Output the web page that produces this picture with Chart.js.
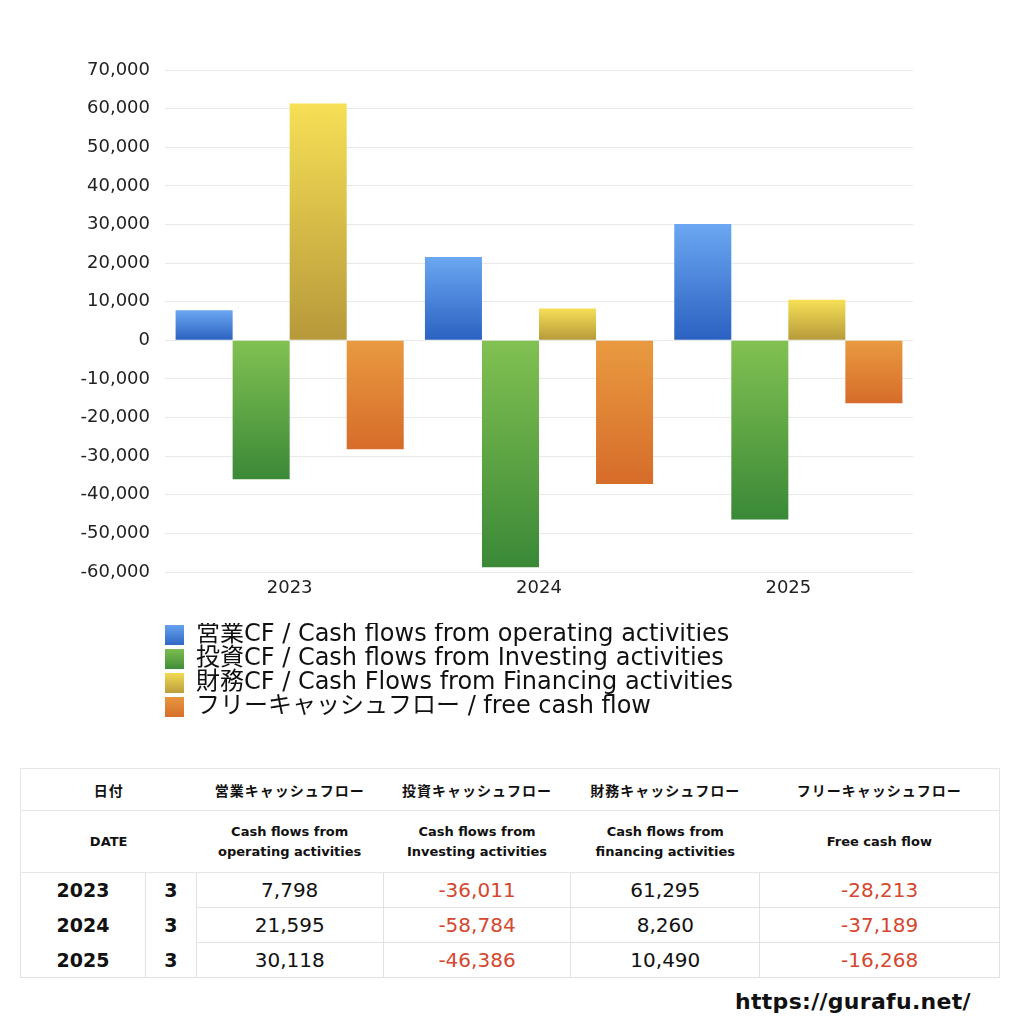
<!DOCTYPE html>
<html>
<head>
<meta charset="utf-8">
<script src="https://cdn.jsdelivr.net/npm/chart.js@4"></script>
<style>
  body { margin: 0; background: #fff; font-family: 'DejaVu Sans', 'Noto Sans CJK JP', sans-serif; }
  #chartBox { position: absolute; left: 0; top: 0; width: 1024px; height: 735px; }
  #cfTable { position: absolute; left: 20px; top: 768px; width: 980px; border-collapse: collapse; color: #111; }
  #cfTable th, #cfTable td { text-align: center; padding: 0; }
  #cfTable thead tr:first-child th { height: 41px; font-size: 14px; letter-spacing: 1px; font-weight: bold; font-family: 'Noto Sans CJK JP', sans-serif; border-top: 1px solid #e6e6e6; border-bottom: 1px solid #e6e6e6; }
  #cfTable thead tr:nth-child(2) th { height: 61px; font-size: 13px; font-weight: bold; line-height: 20px; border-bottom: 1px solid #e6e6e6; }
  #cfTable thead th:first-child { border-left: 1px solid #e6e6e6; }
  #cfTable thead th:last-child { border-right: 1px solid #e6e6e6; }
  #cfTable tbody td { height: 34px; font-size: 20px; border: 1px solid #e2e2e2; }
  #cfTable tbody td.yr, #cfTable tbody td.mo { font-weight: bold; font-size: 19px; }
  #cfTable tbody tr:not(:last-child) td.yr, #cfTable tbody tr:not(:last-child) td.mo { border-bottom: none; }
  #cfTable tbody tr:not(:first-child) td.yr, #cfTable tbody tr:not(:first-child) td.mo { border-top: none; }
  #cfTable td.neg { color: #d5472e; }
  #site { position: absolute; left: 735px; top: 989px; font-size: 22px; font-weight: bold; color: #111; font-family: 'DejaVu Sans', sans-serif; letter-spacing: 0.3px; }
</style>
</head>
<body>
<div id="chartBox"><canvas id="cfChart"></canvas></div>
<table id="cfTable">
  <colgroup>
    <col style="width:125px"><col style="width:51px"><col style="width:187px">
    <col style="width:188px"><col style="width:189px"><col style="width:240px">
  </colgroup>
  <thead>
    <tr id="headJa"></tr>
    <tr id="headEn"></tr>
  </thead>
  <tbody id="tableBody"></tbody>
</table>
<div id="site">https://gurafu.net/</div>
<script>
// 年度と月
const years = ['2023', '2024', '2025'];
const months = ['3', '3', '3'];

// 各キャッシュフロー
const operatingCF = [7798, 21595, 30118];
const investingCF = [-36011, -58784, -46386];
const financingCF = [61295, 8260, 10490];
const freeCF = [-28213, -37189, -16268];

const seriesLabels = [
    '営業CF / Cash flows from operating activities',
    '投資CF / Cash flows from Investing activities',
    '財務CF / Cash Flows from Financing activities',
    'フリーキャッシュフロー / free cash flow'
];

// 表の見出し
const headJa = ['日付', '営業キャッシュフロー', '投資キャッシュフロー', '財務キャッシュフロー', 'フリーキャッシュフロー'];
const headEn = ['DATE', 'Cash flows from<br>operating activities', 'Cash flows from<br>Investing activities', 'Cash flows from<br>financing activities', 'Free cash flow'];

const yTicks = [70000, 60000, 50000, 40000, 30000, 20000, 10000, 0, -10000, -20000, -30000, -40000, -50000, -60000];

// グラデーション色 (上, 下)
const gradColors = [
    ['#6ba7f2', '#2b61c1'],
    ['#82c152', '#3a8937'],
    ['#f6e056', '#b6993a'],
    ['#e99a40', '#d66c2a']
];

const fontFamily = "'DejaVu Sans', 'Noto Sans CJK JP', sans-serif";
const fmt = v => v.toLocaleString('en-US');

// 棒ごとに縦グラデーション
function barGradient(idx) {
    return function (context) {
        const chart = context.chart;
        const mid = gradColors[idx][0];
        if (!chart.chartArea || context.raw === undefined) return mid;
        const y = chart.scales.y;
        const v = context.raw;
        const top = y.getPixelForValue(Math.max(v, 0));
        const bottom = y.getPixelForValue(Math.min(v, 0));
        if (!isFinite(top) || !isFinite(bottom) || top === bottom) return mid;
        const g = chart.ctx.createLinearGradient(0, top, 0, bottom);
        g.addColorStop(0, gradColors[idx][0]);
        g.addColorStop(1, gradColors[idx][1]);
        return g;
    };
}

// 凡例の箱にもグラデーション
const legendGradient = {
    id: 'legendGradient',
    beforeDraw(chart) {
        const legend = chart.legend;
        if (!legend || !legend.legendHitBoxes) return;
        legend.legendItems.forEach((item, i) => {
            const box = legend.legendHitBoxes[i];
            if (!box) return;
            const g = chart.ctx.createLinearGradient(0, box.top, 0, box.top + box.height);
            g.addColorStop(0, gradColors[i][0]);
            g.addColorStop(1, gradColors[i][1]);
            item.fillStyle = g;
        });
    }
};

const allSeries = [operatingCF, investingCF, financingCF, freeCF];

const ctx = document.getElementById('cfChart').getContext('2d');
const chart = new Chart(ctx, {
    type: 'bar',
    data: {
        labels: years,
        datasets: allSeries.map((s, i) => ({
            label: seriesLabels[i],
            data: s,
            backgroundColor: barGradient(i),
            borderWidth: 0
        }))
    },
    plugins: [legendGradient],
    options: {
        responsive: true,
        maintainAspectRatio: false,
        animation: false,
        layout: { padding: { top: 70, right: 111, left: 0, bottom: 6 } },
        datasets: { bar: { categoryPercentage: 0.915, barPercentage: 1.0 } },
        scales: {
            x: {
                grid: { display: false },
                border: { display: false },
                afterFit: scale => { scale.height = 51; },
                ticks: { color: '#222', padding: -2, font: { size: 18, family: fontFamily } }
            },
            y: {
                min: -60000,
                max: 70000,
                afterBuildTicks: scale => { scale.ticks = yTicks.map(v => ({ value: v })); },
                afterFit: scale => { scale.width = 165; },
                grid: { color: '#e9e9e9', drawTicks: false },
                border: { display: false },
                ticks: {
                    color: '#222',
                    padding: 15,
                    font: { size: 18, family: fontFamily },
                    callback: v => fmt(v)
                }
            }
        },
        plugins: {
            tooltip: { enabled: false },
            legend: {
                position: 'bottom',
                align: 'start',
                fullSize: false,
                labels: {
                    color: '#111',
                    boxWidth: 19,
                    boxHeight: 20,
                    padding: 0,
                    font: { size: 24, family: fontFamily }
                }
            }
        }
    }
});

// 表を作る
document.getElementById('headJa').innerHTML =
    headJa.map((h, i) => `<th${i === 0 ? ' colspan="2"' : ''}>${h}</th>`).join('');
document.getElementById('headEn').innerHTML =
    headEn.map((h, i) => `<th${i === 0 ? ' colspan="2"' : ''}>${h}</th>`).join('');
document.getElementById('tableBody').innerHTML = years.map((y, r) => {
    const cells = allSeries.map(s => `<td class="${s[r] < 0 ? 'neg' : ''}">${fmt(s[r])}</td>`).join('');
    return `<tr><td class="yr">${y}</td><td class="mo">${months[r]}</td>${cells}</tr>`;
}).join('');
</script>
</body>
</html>
